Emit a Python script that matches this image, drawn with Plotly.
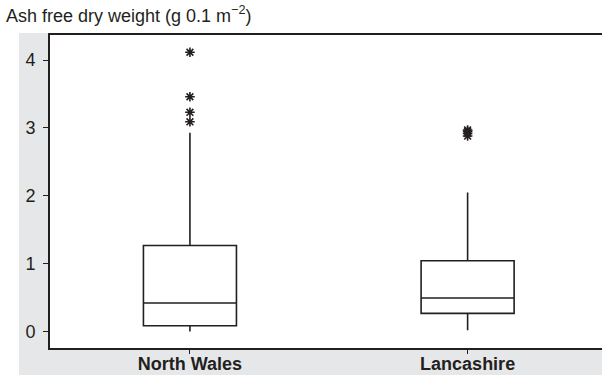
import plotly.graph_objects as go

categories = ["North Wales", "Lancashire"]
q1 = [0.084, 0.265]
median = [0.418, 0.492]
q3 = [1.267, 1.041]
lower_fence = [0.0, 0.015]
upper_fence = [2.93, 2.047]
outliers_nw = [4.115, 3.46, 3.23, 3.09]
outliers_lan = [2.88, 2.92, 2.95, 2.97]
y_ticks = [0, 1, 2, 3, 4]

INK = "#231f20"
GRAY = "#e6e7e8"
FONT = "Liberation Sans, Arial, sans-serif"
FS = 18

fig = go.Figure()
for i, c in enumerate(categories):
    fig.add_trace(go.Box(
        x=[c], q1=[q1[i]], median=[median[i]], q3=[q3[i]],
        lowerfence=[lower_fence[i]], upperfence=[upper_fence[i]],
        width=0.335, whiskerwidth=0, boxpoints=False,
        fillcolor="white", line=dict(color=INK, width=1.6),
        showlegend=False, hoverinfo="skip",
    ))

for c, vals in zip(categories, [outliers_nw, outliers_lan]):
    fig.add_trace(go.Scatter(
        x=[c] * len(vals), y=vals, mode="markers",
        marker=dict(symbol="asterisk-open", size=8, color=INK,
                    line=dict(color=INK, width=1.6)),
        showlegend=False, hoverinfo="skip",
    ))

W, H = 602, 375
ml, mr, mt, mb = 50, 0, 35, 27
pw, ph = W - ml - mr, H - mt - mb

fig.update_layout(
    width=W, height=H,
    margin=dict(l=ml, r=mr, t=mt, b=mb, pad=0, autoexpand=False),
    paper_bgcolor="white", plot_bgcolor="white",
    font=dict(family=FONT, size=FS, color=INK),
    xaxis=dict(
        type="category", categoryorder="array", categoryarray=categories,
        range=[-0.504, 1.484], showgrid=False, zeroline=False,
        showline=True, linecolor=INK, linewidth=1.6, mirror=True,
        ticks="outside", ticklen=4, tickwidth=1.4, tickcolor=INK,
        tickfont=dict(family=FONT, size=FS, color=INK, weight="bold"),
        ticklabelstandoff=-5, automargin=False,
    ),
    yaxis=dict(
        range=[-0.245, 4.37], tickvals=y_ticks, showgrid=False, zeroline=False,
        showline=True, linecolor=INK, linewidth=1.6, mirror=False,
        ticks="outside", ticklen=5, tickwidth=1.4, tickcolor=INK,
        tickfont=dict(family=FONT, size=FS, color=INK),
        ticklabelstandoff=4, automargin=False,
    ),
    shapes=[
        dict(type="rect", xref="paper", yref="paper", layer="below",
             x0=(19 - ml) / pw, x1=0, y0=-mb / ph, y1=1 + 2 / ph,
             fillcolor=GRAY, line=dict(width=0)),
        dict(type="rect", xref="paper", yref="paper", layer="below",
             x0=(19 - ml) / pw, x1=1.01, y0=-mb / ph - 0.01, y1=0,
             fillcolor=GRAY, line=dict(width=0)),
    ],
    annotations=[
        dict(text="Ash free dry weight (g 0.1 m<sup>−2</sup>)",
             xref="paper", yref="paper", x=(4 - ml) / pw, y=1 + 7 / ph,
             xanchor="left", yanchor="bottom", showarrow=False,
             font=dict(family=FONT, size=FS, color=INK)),
    ],
)

fig.write_html("out.html")
